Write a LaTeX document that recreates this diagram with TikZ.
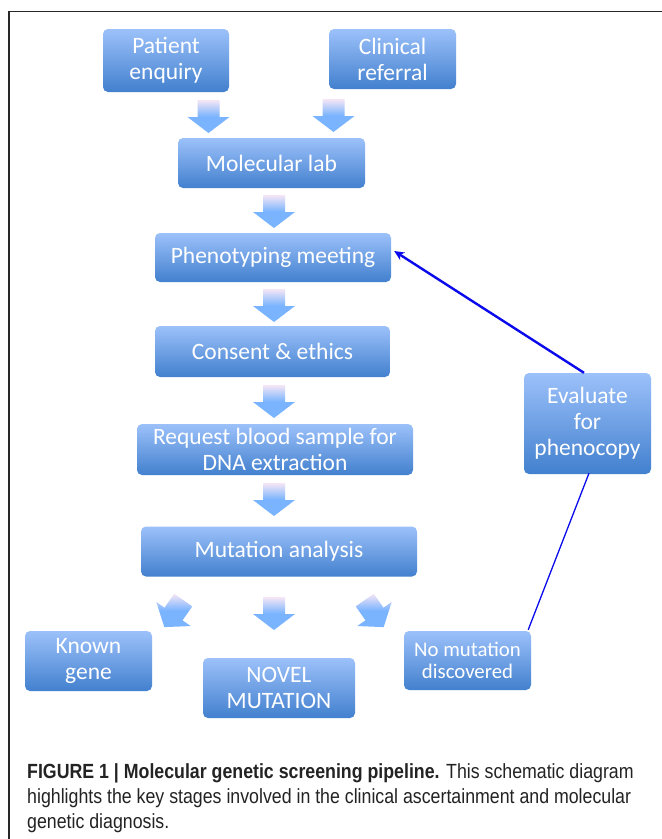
\documentclass[tikz,border=0pt]{standalone}
\usepackage{fontspec}
\setmainfont{Carlito}
\newfontfamily\capfont[FakeStretch=0.866]{Liberation Sans}
\usetikzlibrary{arrows.meta,calc}
\definecolor{boxtop}{RGB}{156,193,250}
\definecolor{boxbot}{RGB}{66,128,206}
\definecolor{arrpink}{RGB}{246,230,245}
\definecolor{arrblue}{RGB}{122,180,255}
\definecolor{linkblue}{RGB}{10,10,235}
\definecolor{framegray}{RGB}{40,40,40}
\definecolor{captext}{RGB}{35,35,35}
\tikzset{
  box/.style={rounded corners=5pt, top color=boxtop, bottom color=boxbot,
    text=white, align=center, inner sep=0pt,
    font=\fontsize{23.5}{26}\selectfont},
  smallbox/.style={box, font=\fontsize{20.8}{22.5}\selectfont},
  blockarrow/.pic={
    \path[top color=arrpink, bottom color=arrblue, middle color=arrblue]
      (-11,-17) -- (11,-17) -- (11,0) -- (21,0) -- (0,16) -- (-21,0) -- (-11,0) -- cycle;},
  linkarrow/.style={draw=linkblue, line width=2.4pt, -{Stealth[length=10pt,width=9pt]}},
  linkline/.style={draw=linkblue, line width=1.3pt},
  frameline/.style={draw=framegray, line width=1.3pt},
  capt/.style={font=\capfont\fontsize{20.5}{25}\selectfont, text=captext, inner sep=0pt}
}
\begin{document}
\begin{tikzpicture}[x=1pt,y=-1pt]
\useasboundingbox (0,0) rectangle (662,839);
\fill[white] (0,0) rectangle (662,839);
\draw[frameline] (9,839) -- (9,11.5) -- (662,11.5);

\node[box, minimum width=126pt, minimum height=63pt] (pa) at (166,60.5) {Patient\\enquiry};
\node[box, minimum width=127pt, minimum height=60pt] (cr) at (392.5,59) {Clinical\\referral};
\node[box, minimum width=187pt, minimum height=50pt] (ml) at (271.5,163) {Molecular lab};
\node[box, minimum width=236pt, minimum height=49pt] (ph) at (273,257.5) {Phenotyping meeting};
\node[box, minimum width=235pt, minimum height=51pt] (ce) at (272.5,351.5) {Consent \& ethics};
\node[box, minimum width=276pt, minimum height=51pt] (rb) at (275,449.5) {Request blood sample for\\DNA extraction};
\node[box, minimum width=276pt, minimum height=50pt] (ma) at (279,551.5) {Mutation analysis};
\node[box, minimum width=127pt, minimum height=60pt] (kg) at (88.5,661) {Known\\gene};
\node[box, minimum width=152pt, minimum height=60pt] (nm) at (279,688) {NOVEL\\MUTATION};
\node[smallbox, minimum width=127pt, minimum height=59pt] (nd) at (467.5,660.5) {No mutation\\discovered};
\node[box, minimum width=127pt, minimum height=101pt] (ev) at (587.5,423.5) {Evaluate\\for\\phenocopy};

\pic at (208.5,117) {blockarrow};
\pic at (333.5,116) {blockarrow};
\pic at (274,212) {blockarrow};
\pic at (274,306) {blockarrow};
\pic at (274,402) {blockarrow};
\pic at (274,500) {blockarrow};
\pic at (274,614) {blockarrow};
\pic[rotate=-35] at (173.5,614) {blockarrow};
\pic[rotate=35] at (374.5,614) {blockarrow};

\draw[linkarrow] ($(ev.north)+(-3.5,0)$) -- ($(ph.east)+(3,-6.5)$);
\draw[linkline] ($(ev.south)+(1.5,-1)$) -- ($(nd.north east)+(-3,-1)$);

\node[capt, anchor=base west] (c1) at (27,778) {\textbf{FIGURE 1 | Molecular genetic screening pipeline.} This schematic diagram};
\node[capt, anchor=base west] (c2) at (27,803) {highlights the key stages involved in the clinical ascertainment and molecular};
\node[capt, anchor=base west] (c3) at (27,828) {genetic diagnosis.};
\end{tikzpicture}
\end{document}
